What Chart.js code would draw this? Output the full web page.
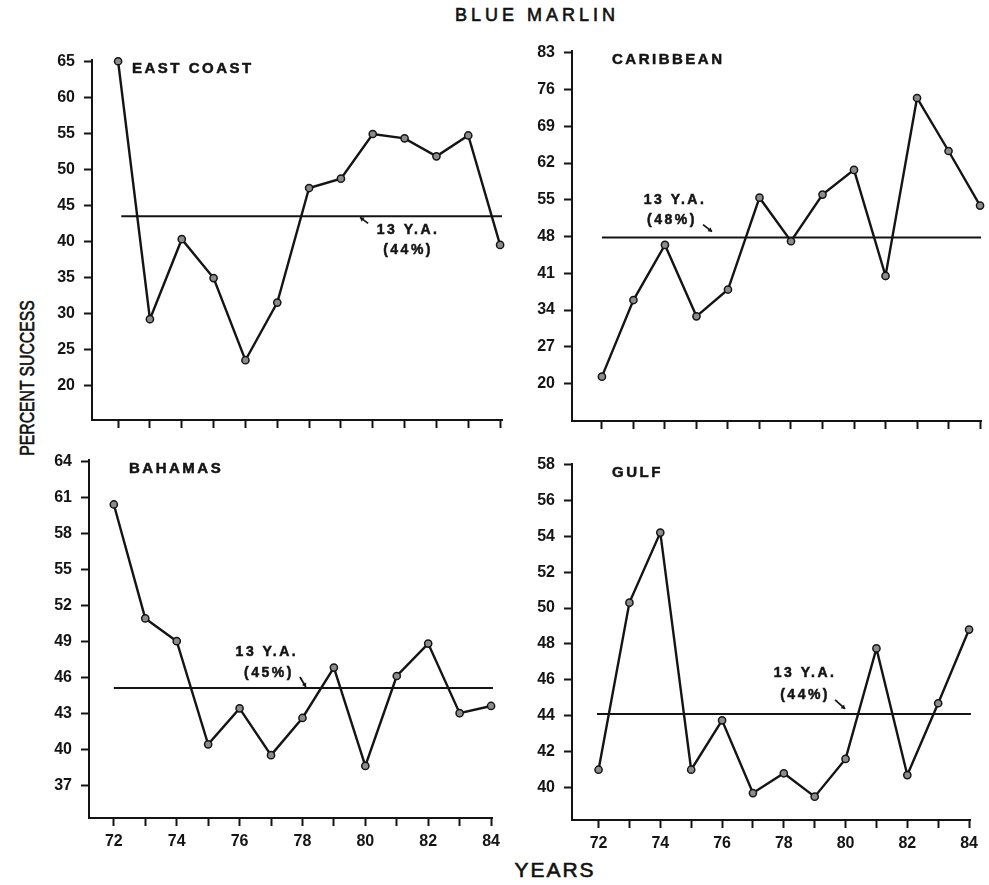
<!DOCTYPE html>
<html>
<head>
<meta charset="utf-8">
<script src="https://cdn.jsdelivr.net/npm/chart.js@4.4.1/dist/chart.umd.min.js"></script>
<style>
  html, body { margin:0; padding:0; background:#fff; }
  body { width:989px; height:885px; position:relative; overflow:hidden; font-family:'Liberation Sans', Arial, sans-serif; color:#111; }
  canvas { position:absolute; }
  .txt { position:absolute; white-space:nowrap; text-align:center; -webkit-text-stroke:0.6px #111; }
</style>
</head>
<body>
<div class="txt" style="left:433px; top:5px; width:200px; font-size:18px; line-height:20px; letter-spacing:4px; padding-left:4px;">BLUE MARLIN</div>
<div class="txt" style="left:-123px; top:366px; width:300px; height:24px; font-size:21px; line-height:24px; transform:rotate(-90deg) scale(0.75,1);">PERCENT SUCCESS</div>
<div class="txt" style="left:453px; top:858px; width:200px; font-size:21px; line-height:24px; letter-spacing:2px; padding-left:2px;">YEARS</div>

<canvas id="c1"></canvas>
<canvas id="c2"></canvas>
<canvas id="c3"></canvas>
<canvas id="c4"></canvas>

<script>
// ---------- DATA ----------
const years = [72, 73, 74, 75, 76, 77, 78, 79, 80, 81, 82, 83, 84];
const xLabelYears = [72, 74, 76, 78, 80, 82, 84];

const eastCoast = [65.0, 29.2, 40.3, 34.9, 23.5, 31.5, 47.4, 48.7, 54.9, 54.3, 51.8, 54.7, 39.5];
const caribbean = [21.3, 35.9, 46.4, 32.8, 37.9, 55.4, 47.1, 56.0, 60.7, 40.5, 74.4, 64.3, 53.9];
const bahamas   = [60.4, 50.9, 49.0, 40.4, 43.4, 39.5, 42.6, 46.8, 38.6, 46.1, 48.8, 43.0, 43.6];
const gulf      = [41.0, 50.3, 54.2, 41.0, 43.75, 39.7, 40.8, 39.5, 41.6, 47.75, 40.7, 44.7, 48.8];

const eastCoastAvg = 43.5, caribbeanAvg = 47.8, bahamasAvg = 45.1, gulfAvg = 44.1;
const eastCoastAvgLabel = '(44%)', caribbeanAvgLabel = '(48%)', bahamasAvgLabel = '(45%)', gulfAvgLabel = '(44%)';

const eastCoastTicks = [20, 25, 30, 35, 40, 45, 50, 55, 60, 65];
const caribbeanTicks = [20, 27, 34, 41, 48, 55, 62, 69, 76, 83];
const bahamasTicks   = [37, 40, 43, 46, 49, 52, 55, 58, 61, 64];
const gulfTicks      = [40, 42, 44, 46, 48, 50, 52, 54, 56, 58];

// ---------- LAYOUT / STYLE ----------
const FONT = "'Liberation Sans', Arial, sans-serif";
const INK = '#141414';
const LEFT_W = 70, TOP_PAD = 14, RIGHT_PAD = 8, BOTTOM_H = 45;

const panels = [
  { id:'c1', name:'EAST COAST', vals:eastCoast, avg:eastCoastAvg, avgLabel:eastCoastAvgLabel, yTicks:eastCoastTicks,
    rect:{L:92, T:55, R:502, B:420}, yMin:15.2, yMax:65.23, xMin:71.18, xMax:84.06, xLabels:false, avgStart:72.1,
    ann:{x:81.11, y:41.52, dx2:0, dy2:20, a:[-40,-7,-48,-13]} },
  { id:'c2', name:'CARIBBEAN', vals:caribbean, avg:caribbeanAvg, avgLabel:caribbeanAvgLabel, yTicks:caribbeanTicks,
    rect:{L:572, T:46, R:981, B:421}, yMin:12.85, yMax:83.43, xMin:71.05, xMax:84.03, xLabels:false, avgStart:72.0,
    ann:{x:74.32, y:55.03, dx2:-3, dy2:20, a:[28,25,37,32]} },
  { id:'c3', name:'BAHAMAS', vals:bahamas, avg:bahamasAvg, avgLabel:bahamasAvgLabel, yTicks:bahamasTicks,
    rect:{L:89, T:455, R:498, B:818}, yMin:34.26, yMax:64.14, xMin:71.21, xMax:84.06, xLabels:true, avgStart:72.0,
    ann:{x:76.87, y:48.1, dx2:2, dy2:21, a:[33,25,39,35]} },
  { id:'c4', name:'GULF', vals:gulf, avg:gulfAvg, avgLabel:gulfAvgLabel, yTicks:gulfTicks,
    rect:{L:572, T:459, R:976, B:820}, yMin:38.2, yMax:58.04, xMin:71.14, xMax:84.06, xLabels:true, avgStart:71.95,
    ann:{x:78.69, y:46.39, dx2:0, dy2:22, a:[30,27,40,36]} }
];

const panelText = {
  id: 'panelText',
  afterDatasetsDraw(chart, args, opts) {
    const p = opts.panel;
    const ctx = chart.ctx, ca = chart.chartArea;
    const xs = chart.scales.x, ys = chart.scales.y;
    ctx.save();
    ctx.fillStyle = INK;
    ctx.strokeStyle = INK;
    try { ctx.letterSpacing = '2.5px'; } catch (e) {}
    ctx.lineWidth = 0.5;
    ctx.font = 'bold 15px ' + FONT;
    ctx.textAlign = 'left';
    ctx.textBaseline = 'middle';
    ctx.fillText(p.name, ca.left + 40, ca.top + 9);
    ctx.strokeText(p.name, ca.left + 40, ca.top + 9);
    // average annotation
    const cx = xs.getPixelForValue(p.ann.x), cy = ys.getPixelForValue(p.ann.y);
    ctx.textAlign = 'center';
    ctx.font = 'bold 14px ' + FONT;
    ctx.fillText('13 Y.A.', cx, cy);
    ctx.strokeText('13 Y.A.', cx, cy);
    ctx.fillText(p.avgLabel, cx + p.ann.dx2, cy + p.ann.dy2);
    ctx.strokeText(p.avgLabel, cx + p.ann.dx2, cy + p.ann.dy2);
    // small arrow
    const a = p.ann.a;
    const x1 = cx + a[0], y1 = cy + a[1], x2 = cx + a[2], y2 = cy + a[3];
    ctx.lineWidth = 1.8;
    ctx.beginPath(); ctx.moveTo(x1, y1); ctx.lineTo(x2, y2); ctx.stroke();
    const ang = Math.atan2(y2 - y1, x2 - x1), h = 4.5;
    ctx.beginPath();
    ctx.moveTo(x2, y2);
    ctx.lineTo(x2 - h * Math.cos(ang - 0.6), y2 - h * Math.sin(ang - 0.6));
    ctx.lineTo(x2 - h * Math.cos(ang + 0.6), y2 - h * Math.sin(ang + 0.6));
    ctx.closePath(); ctx.fill();
    ctx.restore();
  }
};

panels.forEach(p => {
  const cv = document.getElementById(p.id);
  const w = p.rect.R - p.rect.L + LEFT_W + RIGHT_PAD;
  const h = p.rect.B - p.rect.T + TOP_PAD + BOTTOM_H;
  cv.width = w; cv.height = h;
  cv.style.width = w + 'px'; cv.style.height = h + 'px';
  cv.style.left = (p.rect.L - LEFT_W) + 'px';
  cv.style.top = (p.rect.T - TOP_PAD) + 'px';

  new Chart(cv, {
    type: 'line',
    data: {
      datasets: [
        {
          data: years.map((yr, i) => ({ x: yr, y: p.vals[i] })),
          borderColor: INK, borderWidth: 2.4, tension: 0,
          pointRadius: 3.6, pointBackgroundColor: '#8c8c8c', pointBorderColor: INK, pointBorderWidth: 1.5,
          clip: false
        },
        {
          data: [{ x: p.avgStart, y: p.avg }, { x: p.xMax, y: p.avg }],
          borderColor: INK, borderWidth: 2, pointRadius: 0, tension: 0, clip: false
        }
      ]
    },
    options: {
      responsive: false, animation: false, devicePixelRatio: 1,
      layout: { autoPadding: false, padding: { left: 0, top: TOP_PAD, right: RIGHT_PAD, bottom: 0 } },
      plugins: { legend: { display: false }, tooltip: { enabled: false }, title: { display: false }, panelText: { panel: p } },
      scales: {
        x: {
          type: 'linear', min: p.xMin, max: p.xMax,
          afterBuildTicks: s => { s.ticks = years.map(v => ({ value: v })); },
          afterFit: s => { s.height = BOTTOM_H; },
          grid: { display: true, drawOnChartArea: false, drawTicks: true, tickLength: 8, tickWidth: 2, tickColor: INK },
          border: { display: true, color: INK, width: 2 },
          ticks: {
            color: INK, padding: 6, maxRotation: 0, autoSkip: false,
            font: { family: FONT, size: 16, weight: 'bold' },
            callback: v => (p.xLabels && xLabelYears.includes(v)) ? String(v) : ''
          }
        },
        y: {
          type: 'linear', min: p.yMin, max: p.yMax,
          afterBuildTicks: s => { s.ticks = p.yTicks.map(v => ({ value: v })); },
          afterFit: s => { s.width = LEFT_W; },
          grid: { display: true, drawOnChartArea: false, drawTicks: true, tickLength: 8, tickWidth: 2, tickColor: INK },
          border: { display: true, color: INK, width: 2 },
          ticks: {
            color: INK, padding: 9, autoSkip: false,
            font: { family: FONT, size: 16, weight: 'bold' },
            callback: v => String(v)
          }
        }
      }
    },
    plugins: [panelText]
  });
});
</script>
</body>
</html>
